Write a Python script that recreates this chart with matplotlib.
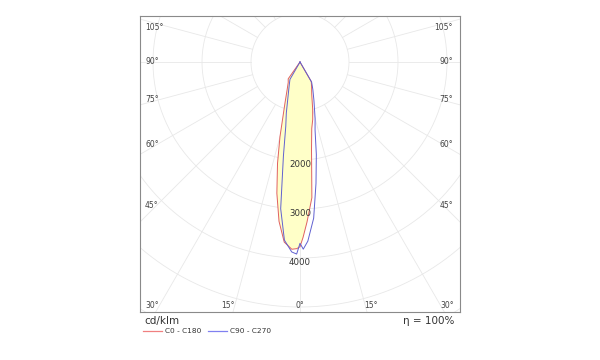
import numpy as np
import matplotlib
matplotlib.use('Agg')
import matplotlib.pyplot as plt

# gamma angles (deg from nadir) and intensities in cd/klm
gamma = [0, 1, 2.5, 5, 7.5, 10, 12.5, 15, 20, 25, 30, 35, 40]
c0 = [3770, 3580, 3270, 2780, 1800, 1380, 1200, 1000, 700, 560, 460, 0, 0]
c180 = [3770, 3810, 3825, 3690, 3280, 2720, 2120, 1580, 900, 620, 480, 420, 0]
c90 = [3700, 3820, 3660, 3200, 2500, 1920, 1420, 1190, 830, 620, 475, 0, 0]
c270 = [3700, 3920, 3880, 3650, 3020, 1950, 1340, 1080, 700, 520, 410, 0, 0]

grid_r = [1000, 2000, 3000, 4000, 5000, 6000, 7000, 8000]
radial_labels = [2000, 3000, 4000]
side_labels = ['105°', '90°', '75°', '60°', '45°']
bottom_labels = ['30°', '15°', '0°', '15°', '30°']

def to_xy(angles, right, left):
    # left half plane drawn with negative x, going from top down to nadir, then up the right side
    a = np.radians(np.array(angles))
    r_l = np.array(left)
    r_r = np.array(right)
    xl = -r_l * np.sin(a)
    yl = -r_l * np.cos(a)
    xr = r_r * np.sin(a)
    yr = -r_r * np.cos(a)
    x = np.concatenate([xl[::-1], xr[1:]])
    y = np.concatenate([yl[::-1], yr[1:]])
    return x, y

fig = plt.figure(figsize=(6, 3.6), dpi=100)
ax = fig.add_axes([140/600, 48/360, 320/600, 296/360])
px = 1000 / 49.0
ax.set_xlim(-160 * px, 160 * px)
ax.set_ylim(-250 * px, 46 * px)
ax.set_aspect('equal')
ax.set_xticks([])
ax.set_yticks([])
for s in ax.spines.values():
    s.set_color('#8a8a8a')
    s.set_linewidth(0.8)

gc = '#e8e8e8'
t = np.linspace(0, 2 * np.pi, 400)
for r in grid_r:
    ax.plot(r * np.sin(t), r * np.cos(t), color=gc, lw=0.6, zorder=1)
for ang in range(0, 360, 15):
    a = np.radians(ang)
    ax.plot([1000 * np.sin(a), 9000 * np.sin(a)], [-1000 * np.cos(a), -9000 * np.cos(a)],
            color=gc, lw=0.6, zorder=1)

x1, y1 = to_xy(gamma, c0, c180)
x2, y2 = to_xy(gamma, c90, c270)
ax.fill(x1, y1, color='#ffffc8', zorder=2, lw=0)
ax.plot(x1, y1, color='#e06060', lw=0.7, zorder=3)
ax.plot(x2, y2, color='#6060d0', lw=0.7, zorder=3)

for r in radial_labels:
    ax.text(0, -(r + 90), str(r), ha='center', va='center', fontsize=6.2, color='#333333', zorder=4)

# angle labels round the frame (axes fraction)
side_y = [27, 62, 100, 145, 206]
for lab, yy in zip(side_labels, side_y):
    yf = 1 - (yy - 16) / 296
    ax.text(5/320, yf, lab, transform=ax.transAxes, ha='left', va='center', fontsize=5.5, color='#444444')
    ax.text(313/320, yf, lab, transform=ax.transAxes, ha='right', va='center', fontsize=5.5, color='#444444')
bottom_x = [152, 228, 300, 371, 447]
for lab, xx in zip(bottom_labels, bottom_x):
    ax.text((xx - 140) / 320, 1 - (305 - 16) / 296, lab, transform=ax.transAxes,
            ha='center', va='center', fontsize=5.5, color='#444444')

fig.text(144/600, 1 - 321/360, 'cd/klm', ha='left', va='center', fontsize=7.5, color='#333333')
fig.text(454/600, 1 - 321/360, 'η = 100%', ha='right', va='center', fontsize=7.5, color='#333333')
fig.add_artist(plt.Line2D([143/600, 162/600], [1 - 331/360, 1 - 331/360], color='#f08080', lw=0.9))
fig.text(165/600, 1 - 331/360, 'C0 - C180', ha='left', va='center', fontsize=5.3, color='#333333')
fig.add_artist(plt.Line2D([208/600, 227/600], [1 - 331/360, 1 - 331/360], color='#8080f0', lw=0.9))
fig.text(230/600, 1 - 331/360, 'C90 - C270', ha='left', va='center', fontsize=5.3, color='#333333')

fig.savefig('out.png', dpi=100)
